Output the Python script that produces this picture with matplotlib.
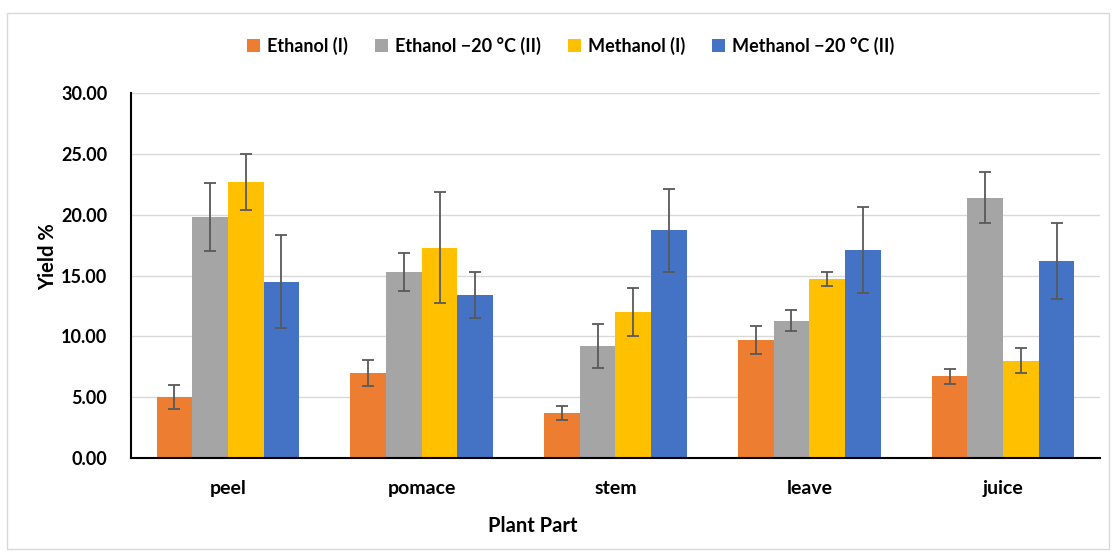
import numpy as np
import matplotlib
matplotlib.use("Agg")
import matplotlib.pyplot as plt
from matplotlib.patches import Rectangle

plt.rcParams['font.family'] = ['Lato', 'DejaVu Sans']
plt.rcParams['font.weight'] = 'bold'

# yield per plant part for each extraction
parts = ["peel", "pomace", "stem", "leave", "juice"]
series = ["Ethanol (I)", "Ethanol \u221220 \u00b0C (II)", "Methanol (I)", "Methanol \u221220 \u00b0C (II)"]

ethanol_i = [5.0, 7.0, 3.7, 9.7, 6.7]
ethanol_ii = [19.8, 15.3, 9.2, 11.3, 21.4]
methanol_i = [22.7, 17.3, 12.0, 14.7, 8.0]
methanol_ii = [14.5, 13.4, 18.7, 17.1, 16.2]

ethanol_i_err = [1.0, 1.05, 0.6, 1.15, 0.6]
ethanol_ii_err = [2.8, 1.55, 1.8, 0.85, 2.1]
methanol_i_err = [2.3, 4.6, 2.0, 0.55, 1.0]
methanol_ii_err = [3.8, 1.9, 3.4, 3.5, 3.1]

colors = ["#ED7D31", "#A5A5A5", "#FFC000", "#4472C4"]

values = [ethanol_i, ethanol_ii, methanol_i, methanol_ii]
errors = [ethanol_i_err, ethanol_ii_err, methanol_i_err, methanol_ii_err]

fig = plt.figure(figsize=(11.13, 5.52), dpi=100)
fig.patches.append(Rectangle((0.006, 0.005), 0.99, 0.972, transform=fig.transFigure,
                             fill=False, edgecolor="#D9D9D9", linewidth=1))
ax = fig.add_axes([0.1177, 0.1703, 0.8706, 0.6612])

x = np.arange(len(parts))
width = 0.184
for i, (vals, errs, c, name) in enumerate(zip(values, errors, colors, series)):
    offset = (i - 1.5) * width
    ax.bar(x + offset, vals, width, color=c, label=name, zorder=2,
           yerr=errs, error_kw=dict(ecolor="#595959", elinewidth=1.3, capsize=4.5, capthick=1.3))

ax.set_xlim(-0.5, len(parts) - 0.5)
ax.set_ylim(0, 30)
ax.set_yticks(np.arange(0, 30.1, 5))
ax.set_yticklabels([f"{v:.2f}" for v in np.arange(0, 30.1, 5)])
ax.set_xticks(x)
ax.set_xticklabels(parts)
ax.tick_params(axis="x", length=0, labelsize=14, pad=16)
ax.tick_params(axis="y", length=0, labelsize=13, pad=17)
ax.grid(axis="y", color="#D9D9D9", linewidth=1, zorder=0)
ax.set_axisbelow(True)

for s in ["top", "right"]:
    ax.spines[s].set_visible(False)
for s in ["left", "bottom"]:
    ax.spines[s].set_color("black")
    ax.spines[s].set_linewidth(1.5)

ax.set_xlabel("Plant Part", fontsize=14.5, fontweight="bold")
ax.xaxis.set_label_coords(0.415, -0.158)
ax.set_ylabel("Yield %", fontsize=14.5, fontweight="bold")
ax.yaxis.set_label_coords(-0.075, 0.553)

fig.legend(loc="center", bbox_to_anchor=(0.513, 0.917), ncol=4, frameon=False,
           fontsize=13, handlelength=0.7, handleheight=0.7, handletextpad=0.4,
           columnspacing=1.5)

fig.savefig("out.png", dpi=100)
